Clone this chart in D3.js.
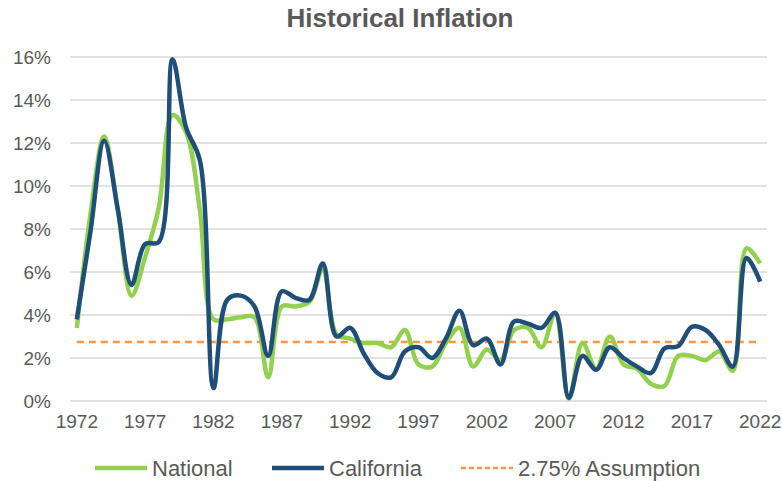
<!DOCTYPE html>
<html>
<head>
<meta charset="utf-8">
<script src="https://cdn.jsdelivr.net/npm/d3@7"></script>
<style>
  body { margin: 0; background: #fff; }
  svg text { font-family: "Liberation Sans", Arial, sans-serif; fill: #595959; }
</style>
</head>
<body>
<svg width="782" height="481"></svg>
<script>
// yearly inflation, percent
var years = d3.range(1972, 2023);
var national = [3.4, 8.7, 12.3, 8.9, 4.9, 6.7, 9.0, 13.3, 12.5, 8.9,
	3.8, 3.8, 3.9, 3.9, 1.1, 4.4, 4.4, 4.6, 6.1, 3.1,
	2.9, 2.7, 2.7, 2.5, 3.3, 1.7, 1.6, 2.7, 3.4, 1.6,
	2.4, 1.9, 3.3, 3.4, 2.5, 4.1, 0.1, 2.7, 1.5, 3.0,
	1.7, 1.5, 0.8, 0.7, 2.1, 2.1, 1.9, 2.3, 1.4, 7.1, 6.4];
var california = [3.8, 7.9, 12.1, 8.9, 5.4, 7.3, 7.4, 15.9, 12.7, 11.2,
	0.6, 4.7, 4.9, 4.4, 2.1, 5.1, 4.8, 4.7, 6.4, 3.0,
	3.4, 2.2, 1.3, 1.1, 2.3, 2.5, 2.0, 2.9, 4.2, 2.6,
	2.9, 1.7, 3.7, 3.6, 3.4, 4.1, 0.15, 2.1, 1.45, 2.5,
	2.0, 1.6, 1.3, 2.45, 2.55, 3.45, 3.3, 2.6, 1.6, 6.65, 5.55];
var assumption = 2.75;
var xTicks = d3.range(1972, 2023, 5);
var yTicks = [0, 2, 4, 6, 8, 10, 12, 14, 16];

var svg = d3.select('svg');
var x = d3.scalePoint().domain(years).range([70, 767]).padding(0.5);
var y = d3.scaleLinear().domain([0, 16]).range([401, 57]);

// gridlines
svg.append('g').selectAll('line').data(yTicks).enter().append('line')
	.attr('x1', 70).attr('x2', 767)
	.attr('y1', function(d) {return y(d)}).attr('y2', function(d) {return y(d)})
	.attr('stroke', '#d9d9d9').attr('stroke-width', 1.3);

// y axis labels
svg.append('g').selectAll('text').data(yTicks).enter().append('text')
	.attr('x', 51).attr('y', function(d) {return y(d)})
	.attr('dy', '0.35em').attr('text-anchor', 'end')
	.style('font-size', '19px')
	.text(function(d) {return d + '%'});

// x axis labels
svg.append('g').selectAll('text').data(xTicks).enter().append('text')
	.attr('x', function(d) {return x(d)}).attr('y', 428)
	.attr('text-anchor', 'middle')
	.style('font-size', '19px')
	.text(function(d) {return d});

// title
svg.append('text')
	.attr('x', 400).attr('y', 27).attr('text-anchor', 'middle')
	.style('font-size', '26px').style('font-weight', 'bold')
	.text('Historical Inflation');

var line = d3.line()
	.x(function(d) {return x(d.year)})
	.y(function(d) {return y(d.value)})
	.curve(d3.curveCatmullRom.alpha(0.5));

function series(vals) {
	return years.map(function(yr, i) {return {year: yr, value: vals[i]}});
}

svg.append('path').datum(years.map(function(yr) {return {year: yr, value: assumption}}))
	.attr('d', line).attr('fill', 'none')
	.attr('stroke', '#f79646').attr('stroke-width', 2.5)
	.attr('stroke-dasharray', '7,5');

svg.append('path').datum(series(national))
	.attr('d', line).attr('fill', 'none')
	.attr('stroke', '#92d050').attr('stroke-width', 4.5)
	.attr('stroke-linejoin', 'round');

svg.append('path').datum(series(california))
	.attr('d', line).attr('fill', 'none')
	.attr('stroke', '#1f4e79').attr('stroke-width', 4.5)
	.attr('stroke-linejoin', 'round');

// legend
var legend = [
	{name: 'National', color: '#92d050', dash: null, width: 4.5, x: 95},
	{name: 'California', color: '#1f4e79', dash: null, width: 4.5, x: 272},
	{name: '2.75% Assumption', color: '#f79646', dash: '5,3', width: 2.5, x: 461}
];
var lg = svg.append('g').selectAll('g').data(legend).enter().append('g');
lg.append('line')
	.attr('x1', function(d) {return d.x}).attr('x2', function(d) {return d.x + 52})
	.attr('y1', 468).attr('y2', 468)
	.attr('stroke', function(d) {return d.color})
	.attr('stroke-width', function(d) {return d.width})
	.attr('stroke-dasharray', function(d) {return d.dash});
lg.append('text')
	.attr('x', function(d) {return d.x + 57}).attr('y', 468)
	.attr('dy', '0.35em')
	.style('font-size', '22px')
	.text(function(d) {return d.name});
</script>
</body>
</html>
